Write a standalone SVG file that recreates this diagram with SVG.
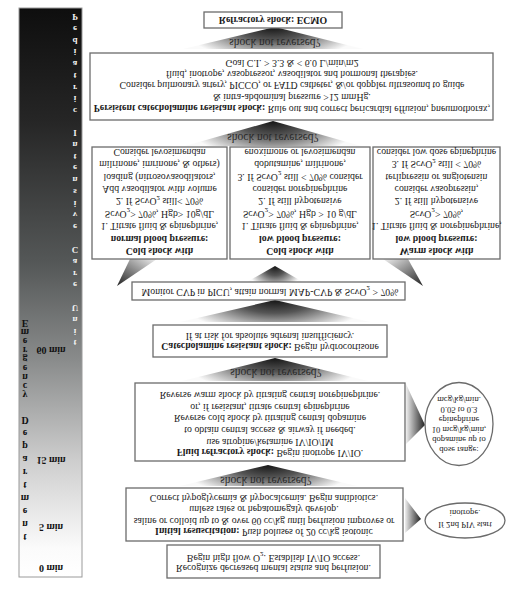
<svg xmlns="http://www.w3.org/2000/svg" width="524" height="591" viewBox="0 0 524 591">
<style>
.t{font-family:"Liberation Serif","Times New Roman",serif;font-size:9.8px;fill:#1a1a1a;text-anchor:middle;dominant-baseline:central}
.b{font-weight:bold}
.box{fill:#fff;stroke:#6b6b6b;stroke-width:1.3}
.snr{font-size:11.5px;fill:#2a2a2a}
.sm{font-size:8.6px}
.lw{font-family:"Liberation Serif",serif;font-size:9px;font-weight:bold;fill:#f2f2f2;text-anchor:middle;dominant-baseline:central}
.lb{font-family:"Liberation Serif",serif;font-size:10px;font-weight:bold;fill:#111;text-anchor:middle;dominant-baseline:central}
.tm{font-family:"Liberation Serif",serif;font-size:10px;font-weight:bold;fill:#111;text-anchor:middle;dominant-baseline:central}
</style>
<defs>
<radialGradient id="gTri" cx="0.5" cy="0" r="0.5" gradientTransform="translate(0.5,0) scale(1,3) translate(-0.5,0)">
<stop offset="0" stop-color="#151515"/><stop offset="0.4" stop-color="#555"/><stop offset="0.7" stop-color="#a8a8a8"/><stop offset="1" stop-color="#fafafa"/>
</radialGradient>
<linearGradient id="gL" x1="1" y1="0" x2="0" y2="1"><stop offset="0" stop-color="#f0f0f0"/><stop offset="1" stop-color="#222"/></linearGradient>
<linearGradient id="gR" x1="0" y1="0" x2="1" y2="1"><stop offset="0" stop-color="#f0f0f0"/><stop offset="1" stop-color="#222"/></linearGradient>
<linearGradient id="gA" x1="0" y1="0" x2="1" y2="0"><stop offset="0" stop-color="#eee"/><stop offset="1" stop-color="#222"/></linearGradient>
<linearGradient id="gBar" x1="0" y1="0" x2="0" y2="1">
<stop offset="0" stop-color="#0e0e0e"/><stop offset="0.2" stop-color="#262626"/><stop offset="0.45" stop-color="#555858"/><stop offset="0.62" stop-color="#8a8c8c"/><stop offset="0.8" stop-color="#cfcfcf"/><stop offset="0.95" stop-color="#fbfbfb"/><stop offset="1" stop-color="#fff"/>
</linearGradient>
</defs>
<rect width="524" height="591" fill="#fff"/>

<g id="timebar">
<rect x="19" y="8" width="63" height="569" fill="url(#gBar)" stroke="#9a9a9a" stroke-width="1"/>
<g transform="matrix(1 0 0 -1 0 591)">
<text class="lw" x="75 75 75 75 75 75 75 75 75" y="574 562.25 550.5 538.75 527 515.25 503.5 491.75 480">Pediatric</text>
<text class="lw" x="75 75 75 75 75 75 75 75 75" y="458 446.25 434.5 422.75 411 399.25 387.5 375.75 364">Intensive</text>
<text class="lw" x="75 75 75 75" y="341 329.25 317.5 305.75">Care</text>
<text class="lw" x="75 75 75 75" y="283 271.25 259.5 247.75">Unit</text>
<text class="lb" x="25 25 25 25 25 25 25 25 25" y="268 258.9 249.8 240.7 231.6 222.5 213.4 204.3 195.2">Emergency</text>
<text class="lb" x="25 25 25 25 25 25 25 25 25 25" y="171 158 145 132 119 106 93 80 67 54">Department</text>
<text class="tm" x="51" y="241">60 min</text>
<text class="tm" x="51" y="131">15 min</text>
<text class="tm" x="51" y="64">5 min</text>
<text class="tm" x="51" y="23">0 min</text>
</g>
</g>

<g id="connectors">
<polygon points="275,27 363,49 183,49" fill="url(#gTri)"/>
<polygon points="273,121 361,146 185,146" fill="url(#gTri)"/>
<polygon points="275,266 303,282 247,282" fill="url(#gTri)"/>
<polygon points="130,259 157,259 117,286" fill="url(#gL)"/>
<polygon points="383,259 408,259 423,286" fill="url(#gR)"/>
<polygon points="275,300 370,322 180,322" fill="url(#gTri)"/>
<polygon points="275,358 368,381 182,381" fill="url(#gTri)"/>
<polygon points="268,465 357,486 180,486" fill="url(#gTri)"/>
<polygon points="406,384 425,425 406,444" fill="url(#gA)"/>
<polygon points="405,498 421,519 405,533" fill="url(#gA)"/>
<g transform="matrix(1 0 0 -1 0 591)">
<text class="t snr" x="275" y="548">shock not reversed?</text>
<text class="t snr" x="273" y="453">shock not reversed?</text>
<text class="t snr" x="276" y="218">shock not reversed?</text>
<text class="t snr" x="266" y="110">shock not reversed?</text>
</g>
</g>

<g id="n-ecmo">
<rect class="box" x="204" y="12" width="138" height="16"/>
<g transform="matrix(1 0 0 -1 0 591)"><text class="t b" x="273" y="571">Refractory shock: ECMO</text></g>
</g>

<g id="n-persistent">
<rect class="box" x="90" y="53" width="403" height="67"/>
<g transform="matrix(1 0 0 -1 0 591)">
<text class="t" x="292" y="482"><tspan class="b">Persistent catecholamine resistant shock:</tspan> Rule out and correct pericardial effusion, pneumothorax,</text>
<text class="t" x="292" y="494">&amp; intra-abdominal pressure &gt;12 mmHg.</text>
<text class="t" x="292" y="505.5">Consider pulmonary artery, PICCO, or FATD catheter, &amp;/or doppler ultrasound to guide</text>
<text class="t" x="292" y="517">fluid, inotrope, vasopressor, vasodilator and hormonal therapies.</text>
<text class="t" x="292" y="528">Goal C.I. &gt; 3.3 &amp; &lt; 6.0 L/min/m2</text>
</g>
</g>

<g id="n-cold-normal">
<rect class="box" x="92" y="147" width="135" height="112"/>
<g transform="matrix(1 0 0 -1 0 591)">
<text class="t b" x="159.5" y="339.4">Cold shock with</text>
<text class="t b" x="159.5" y="351.9">normal blood pressure:</text>
<text class="t" x="159.5" y="364.3">1. Titrate fluid &amp; epinephrine,</text>
<text class="t" x="159.5" y="376.8">ScvO<tspan baseline-shift="sub" font-size="7">2</tspan>&gt; 70%, Hgb&gt; 10g/dL</text>
<text class="t" x="159.5" y="389.2">2. If ScvO<tspan baseline-shift="sub" font-size="7">2</tspan> still&lt; 70%</text>
<text class="t" x="159.5" y="401.7">Add vasodilator with volume</text>
<text class="t" x="159.5" y="414">loading (nitrosovasodilators,</text>
<text class="t" x="159.5" y="426.5">milrinone, imrinone, &amp; others)</text>
<text class="t" x="159.5" y="439">Consider levosimendan</text>
</g>
</g>

<g id="n-cold-low">
<rect class="box" x="230" y="147" width="140" height="112"/>
<g transform="matrix(1 0 0 -1 0 591)">
<text class="t b" x="300" y="339.4">Cold shock with</text>
<text class="t b" x="300" y="351.9">low blood pressure:</text>
<text class="t" x="300" y="364.3">1. Titrate fluid &amp; epinephrine,</text>
<text class="t" x="300" y="376.8">ScvO<tspan baseline-shift="sub" font-size="7">2</tspan>&gt; 70%, Hgb &gt; 10 g/dL</text>
<text class="t" x="300" y="389.2">2. If still hypotensive</text>
<text class="t" x="300" y="401.7">consider norepinephrine</text>
<text class="t" x="300" y="414">3. If ScvO<tspan baseline-shift="sub" font-size="7">2</tspan> still &lt; 70% consider</text>
<text class="t" x="300" y="426.5">dobutamine, milrinone,</text>
<text class="t" x="300" y="439">enoximone or levosimendan</text>
</g>
</g>

<g id="n-warm-low">
<rect class="box" x="373" y="147" width="127" height="112"/>
<g transform="matrix(1 0 0 -1 0 591)">
<text class="t b" x="436.5" y="339.4">Warm shock with</text>
<text class="t b" x="436.5" y="351.9">low blood pressure:</text>
<text class="t" x="436.5" y="364.3">1. Titrate fluid &amp; norepinephrine,</text>
<text class="t" x="436.5" y="376.8">ScvO<tspan baseline-shift="sub" font-size="7">2</tspan>&gt; 70%,</text>
<text class="t" x="436.5" y="389.2">2. If still hypotensive</text>
<text class="t" x="436.5" y="401.7">consider vasopressin,</text>
<text class="t" x="436.5" y="414">terlipressin or angiotensin</text>
<text class="t" x="436.5" y="426.5">3. If ScvO<tspan baseline-shift="sub" font-size="7">2</tspan> still &lt; 70%</text>
<text class="t" x="436.5" y="439">consider low dose epinephrine</text>
</g>
</g>

<g id="n-monitor">
<rect class="box" x="132" y="282" width="273" height="18"/>
<g transform="matrix(1 0 0 -1 0 591)">
<text class="t" x="270" y="299" font-size="10">Monitor CVP in PICU, attain normal MAP-CVP &amp; ScvO<tspan baseline-shift="sub" font-size="7">2</tspan> &gt; 70%</text>
</g>
</g>

<g id="n-catechol">
<rect class="box" x="153" y="325" width="234" height="32"/>
<g transform="matrix(1 0 0 -1 0 591)">
<text class="t" x="270" y="244"><tspan class="b">Catecholamine resistant shock:</tspan> Begin hydrocortisone</text>
<text class="t" x="270" y="255">If at risk for absolute adrenal insufficiency.</text>
</g>
</g>

<g id="n-fluid">
<rect class="box" x="135" y="383" width="270" height="78"/>
<g transform="matrix(1 0 0 -1 0 591)">
<text class="t" x="270" y="138"><tspan class="b">Fluid refractory shock:</tspan> Begin inotrope IV/IO.</text>
<text class="t" x="270" y="149">use atropine/ketamine IV/IO/IM</text>
<text class="t" x="270" y="161">to obtain central access &amp; airway if needed.</text>
<text class="t" x="270" y="173">Reverse cold shock by titrating central dopamine</text>
<text class="t" x="270" y="184">or, if resistant, titrate central epinephrine</text>
<text class="t" x="270" y="196">Reverse warm shock by titrating central  norepinephrine.</text>
</g>
</g>

<g id="n-dose">
<ellipse class="box" cx="459" cy="424" rx="34" ry="41.5"/>
<g transform="matrix(1 0 0 -1 0 591)">
<text class="t sm" x="459" y="141.5">dose range:</text>
<text class="t sm" x="459" y="151.5">dopamine up to</text>
<text class="t sm" x="459" y="161.5">10 mcg/kg/min,</text>
<text class="t sm" x="459" y="171.5">epinephrine</text>
<text class="t sm" x="459" y="181.5">0.05 to 0.3</text>
<text class="t sm" x="459" y="191.5">mcg/kg/min.</text>
</g>
</g>

<g id="n-initial">
<rect class="box" x="126" y="488" width="277" height="53"/>
<g transform="matrix(1 0 0 -1 0 591)">
<text class="t" x="264" y="59"><tspan class="b">Initial resuscitation:</tspan> Push boluses of 20 cc/kg isotonic</text>
<text class="t" x="264" y="70">saline or colloid up to &amp; over 60 cc/kg until perfusion improves or</text>
<text class="t" x="264" y="81.5">unless rales or hepatomegaly develop.</text>
<text class="t" x="264" y="93">Correct hypoglycemia &amp; hypocalcemia. Begin antibiotics.</text>
</g>
</g>

<g id="n-piv">
<ellipse class="box" cx="465" cy="520.5" rx="40" ry="17.5"/>
<g transform="matrix(1 0 0 -1 0 591)">
<text class="t sm" x="465" y="66">If 2nd PIV start</text>
<text class="t sm" x="465" y="78">inotrope.</text>
</g>
</g>

<g id="n-recognize">
<rect class="box" x="167" y="545" width="213" height="33"/>
<g transform="matrix(1 0 0 -1 0 591)">
<text class="t" x="273.5" y="23">Recognize decreased mental status and perfusion.</text>
<text class="t" x="273.5" y="33">Begin high flow O<tspan baseline-shift="sub" font-size="7">2</tspan>.  Establish IV/IO access.</text>
</g>
</g>
</svg>
